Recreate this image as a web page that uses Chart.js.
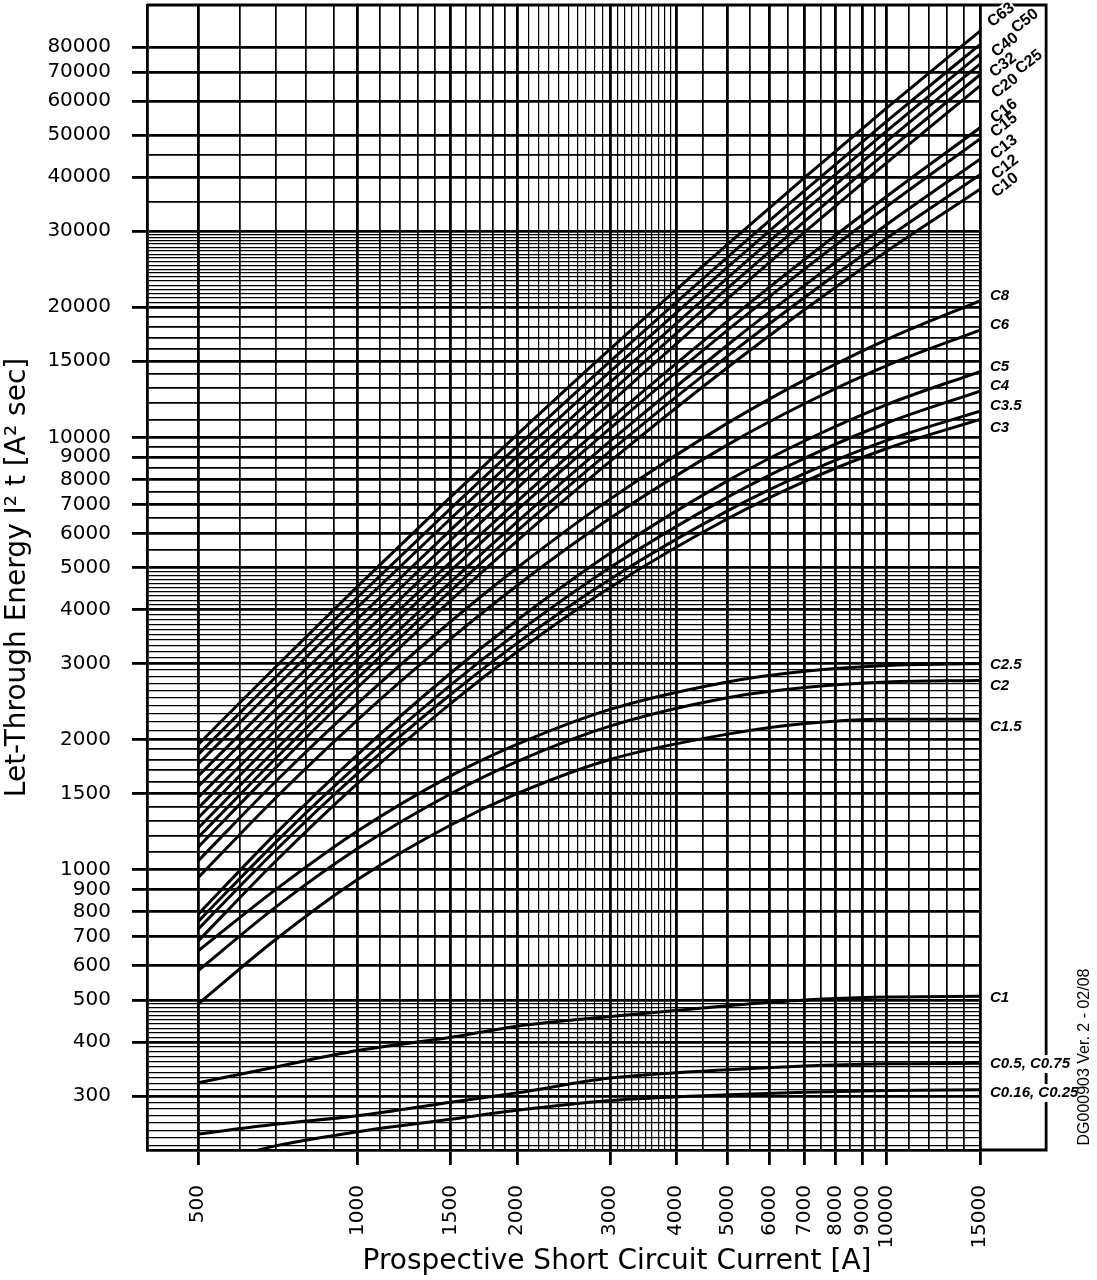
<!DOCTYPE html>
<html><head><meta charset="utf-8">
<script src="https://cdn.jsdelivr.net/npm/chart.js@4.4.0/dist/chart.umd.min.js"></script>
<style>html,body{margin:0;padding:0;background:#fff;}#wrap{width:1097px;height:1280px;position:relative;}</style>
</head><body><div id="wrap"><canvas id="c"></canvas></div>
<script>
// ---- data ----
const currents    = [500, 700, 1000, 1500, 2000, 3000, 5000, 7000, 10000, 15000];
const currentsLow = [640, 700, 1000, 1500, 2000, 3000, 5000, 7000, 10000, 15000];

const C63   = [1950, 2946, 4524, 7284, 10140, 16000, 27950, 39950, 57800, 87000];
const C50   = [1850, 2788, 4270, 6857, 9528, 15000, 26130, 37270, 53880, 81000];
const C40   = [1760, 2648, 4050, 6495, 9025, 14200, 24750, 35340, 51140, 77000];
const C32   = [1650, 2486, 3807, 6115, 8505, 13400, 23390, 33440, 48430, 73000];
const C25   = [1560, 2353, 3605, 5793, 8058, 12700, 22150, 31650, 45800, 69000];
const C20   = [1470, 2219, 3403, 5472, 7614, 12000, 20930, 29890, 43220, 65000];
const C16   = [1390, 2106, 3228, 5154, 7106, 11000, 18580, 25820, 36110, 52000];
const C15   = [1320, 2005, 3078, 4922, 6788, 10500, 17700, 24540, 34210, 49000];
const C13   = [1250, 1898, 2909, 4636, 6373, 9800, 16360, 22500, 31080, 44000];
const C12   = [1190, 1809, 2777, 4423, 6071, 9300, 15420, 21090, 28910, 40500];
const C10   = [1130, 1721, 2641, 4201, 5758, 8800, 14510, 19770, 26960, 37500];
const C8    = [1050, 1601, 2428, 3753, 4991, 7200, 10790, 13590, 16840, 20700];
const C6    = [960, 1466, 2222, 3424, 4539, 6500, 9612, 11980, 14660, 17700];
const C5    = [790, 1213, 1847, 2853, 3779, 5400, 7934, 9826, 11910, 14200];
const C4    = [760, 1158, 1748, 2679, 3527, 5000, 7278, 8961, 10800, 12800];
const C3_5  = [730, 1110, 1672, 2548, 3340, 4700, 6763, 8253, 9840, 11500];
const C3    = [685, 1047, 1585, 2427, 3190, 4500, 6484, 7914, 9428, 11000];
const C2_5  = [650, 900, 1230, 1650, 1950, 2350, 2720, 2880, 2970, 3000];
const C2    = [585, 820, 1120, 1500, 1780, 2150, 2500, 2640, 2720, 2740];
const C1_5  = [490, 690, 950, 1270, 1500, 1800, 2060, 2180, 2230, 2230];
const C1    = [322, 350, 382, 410, 435, 458, 485, 500, 508, 510];
const C0_5  = [245, 258, 270, 290, 305, 330, 345, 352, 356, 357];
const C0_16 = [224, 230, 248, 265, 278, 293, 302, 306, 309, 310];

const xTickLabels = [500, 1000, 1500, 2000, 3000, 4000, 5000, 6000, 7000, 8000, 9000, 10000, 15000];
const yTickLabels = [300, 400, 500, 600, 700, 800, 900, 1000, 1500, 2000, 3000, 4000, 5000, 6000, 7000, 8000, 9000, 10000, 15000, 20000, 30000, 40000, 50000, 60000, 70000, 80000];

const series = [
  ['C63', C63, currents], ['C50', C50, currents], ['C40', C40, currents], ['C32', C32, currents],
  ['C25', C25, currents], ['C20', C20, currents], ['C16', C16, currents], ['C15', C15, currents],
  ['C13', C13, currents], ['C12', C12, currents], ['C10', C10, currents], ['C8', C8, currents],
  ['C6', C6, currents], ['C5', C5, currents], ['C4', C4, currents], ['C3.5', C3_5, currents],
  ['C3', C3, currents], ['C2.5', C2_5, currents], ['C2', C2, currents], ['C1.5', C1_5, currents],
  ['C1', C1, currents], ['C0.5, C0.75', C0_5, currents], ['C0.16, C0.25', C0_16, currentsLow]
];

// ---- label placement (style) ----
const rotLabels = [
  {t:'C63', v:94800, dx:21}, {t:'C50', v:91800, dx:45}, {t:'C40', v:80800, dx:25},
  {t:'C32', v:72600, dx:23}, {t:'C25', v:73800, dx:49}, {t:'C20', v:64950, dx:25},
  {t:'C16', v:56860, dx:24}, {t:'C15', v:52740, dx:24}, {t:'C13', v:46900, dx:24},
  {t:'C12', v:42170, dx:25}, {t:'C10', v:38310, dx:25}
];
const flatLabels = [
  {t:'C8', v:21200}, {t:'C6', v:18170}, {t:'C5', v:14600}, {t:'C4', v:13130},
  {t:'C3.5', v:11860}, {t:'C3', v:10550}, {t:'C2.5', v:2982}, {t:'C2', v:2666},
  {t:'C1.5', v:2143}, {t:'C1', v:505}, {t:'C0.5, C0.75', v:355.6, bg:true}, {t:'C0.16, C0.25', v:304.7, bg:true}
];

function range(a, b, s){ const r=[]; for(let v=a; v<=b+1e-9; v+=s) r.push(Math.round(v)); return r; }
const xGrid = [...new Set([...range(500,4000,100), ...range(4000,10000,500), ...range(10000,15000,1000)])];
const yGrid = [...new Set([...range(230,500,10), ...range(500,1000,100), ...range(1000,5000,100),
  ...range(5000,10000,500), ...range(10000,20000,1000), ...range(20000,30000,500),
  ...range(30000,50000,5000), 60000, 70000, 80000])];
const xLab = new Set(xTickLabels), yLab = new Set(yTickLabels);
const xDense = v => v > 2000 && v < 4000;
const yDense = v => (v < 500) || (v > 2000 && v < 5000) || (v > 20000 && v < 30000);

const datasets = series.map(([name, vals, xs]) => ({
  label: name,
  data: vals.map((v,i) => ({x: xs[i], y: v})),
  borderColor: '#000', borderWidth: 3, pointRadius: 0, fill: false,
  cubicInterpolationMode: 'monotone'
}));

function noPad(ax){ ax.paddingTop = 0; ax.paddingBottom = 0; ax.paddingLeft = 0; ax.paddingRight = 0; }

const overlay = {
  id: 'overlay',
  afterDraw(chart){
    const {ctx, chartArea: a, scales: {x, y}} = chart;
    const bx = x.getPixelForValue(20000);
    ctx.save();
    ctx.strokeStyle = '#000'; ctx.lineWidth = 2.8;
    ctx.beginPath();
    ctx.moveTo(a.left, a.top); ctx.lineTo(bx, a.top); ctx.lineTo(bx, a.bottom); ctx.lineTo(a.right, a.bottom);
    ctx.stroke();
    ctx.fillStyle = '#000';
    // rotated labels
    ctx.font = 'bold 16px "Liberation Sans"';
    ctx.textAlign = 'center'; ctx.textBaseline = 'middle';
    rotLabels.forEach(l => {
      const py = y.getPixelForValue(l.v);
      ctx.save(); ctx.translate(a.right + l.dx, py); ctx.rotate(-38*Math.PI/180);
      if (l.t === 'C63') { const w = ctx.measureText(l.t).width; ctx.fillStyle='#fff'; ctx.fillRect(-w/2-1,-8,w+2,16); ctx.fillStyle='#000'; }
      ctx.fillText(l.t, 0, 0); ctx.restore();
    });
    // horizontal labels
    ctx.font = 'italic bold 15px "Liberation Sans"';
    ctx.textAlign = 'left';
    flatLabels.forEach(l => {
      const py = y.getPixelForValue(l.v);
      const px = a.right + 10;
      if (l.bg) { const w = ctx.measureText(l.t).width; ctx.fillStyle='#fff'; ctx.fillRect(px-1, py-9, w+3, 18); ctx.fillStyle='#000'; }
      ctx.fillText(l.t, px, py);
    });
    // document id
    ctx.font = '16px "Liberation Sans"';
    ctx.save(); ctx.translate(1085, 1057); ctx.rotate(-Math.PI/2);
    ctx.textAlign = 'center'; ctx.fillText('DG000903 Ver. 2 - 02/08', 0, 0); ctx.restore();
    // x title
    ctx.font = '28px "DejaVu Sans"';
    ctx.textAlign = 'center';
    ctx.fillText('Prospective Short Circuit Current [A]', 617, 1262);
    ctx.restore();
  }
};

new Chart(document.getElementById('c'), {
  type: 'line',
  data: { datasets },
  plugins: [overlay],
  options: {
    responsive: true, maintainAspectRatio: false, animation: false,
    layout: { autoPadding: false, padding: { left: 0, right: 117, top: 5, bottom: 0 } },
    plugins: { legend: { display: false }, tooltip: { enabled: false } },
    scales: {
      x: {
        type: 'logarithmic', min: 400, max: 15000,
        afterBuildTicks: ax => { ax.ticks = xGrid.map(v => ({value: v})); },
        afterFit: ax => { ax.height = 130; noPad(ax); },
        ticks: { autoSkip: false, minRotation: 90, maxRotation: 90, padding: 20, color: '#000',
          font: { family: 'DejaVu Sans', size: 20 },
          callback: v => xLab.has(v) ? String(v) : '' },
        grid: { color: '#000', tickLength: 15,
          lineWidth: c => !c.tick ? 1.4 : xLab.has(c.tick.value) ? 2.8 : xDense(c.tick.value) ? 1.2 : 1.7,
          tickWidth: 2.8,
          tickColor: c => (c.tick && xLab.has(c.tick.value)) ? '#000' : 'rgba(0,0,0,0)' },
        border: { display: true, color: '#000', width: 2.8 },
        title: { display: false }
      },
      y: {
        type: 'logarithmic', min: 225, max: 100000,
        afterBuildTicks: ax => { ax.ticks = yGrid.map(v => ({value: v})); },
        afterFit: ax => { ax.width = 147; noPad(ax); },
        ticks: { autoSkip: false, padding: 21, color: '#000',
          font: { family: 'DejaVu Sans', size: 20 },
          callback: v => yLab.has(v) ? String(v) : '' },
        grid: { color: '#000', tickLength: 15,
          lineWidth: c => !c.tick ? 1.4 : yLab.has(c.tick.value) ? 2.8 : yDense(c.tick.value) ? 1.2 : 1.7,
          tickWidth: 2.8,
          tickColor: c => (c.tick && yLab.has(c.tick.value)) ? '#000' : 'rgba(0,0,0,0)' },
        border: { display: true, color: '#000', width: 2.8 },
        title: { display: true, text: 'Let-Through Energy I\u00B2 t [A\u00B2 sec]', color: '#000',
          font: { family: 'DejaVu Sans', size: 28 }, padding: { top: 1, bottom: 0 } }
      }
    }
  }
});
</script></body></html>
